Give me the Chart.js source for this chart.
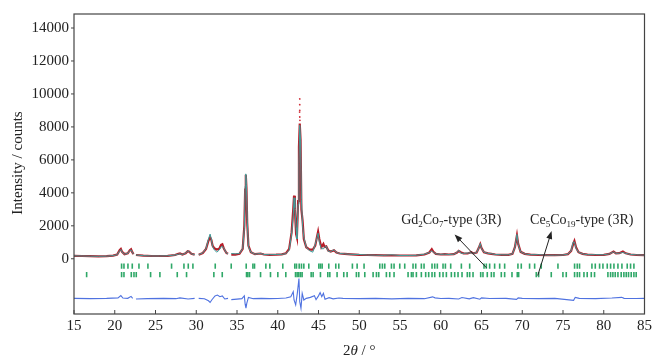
<!DOCTYPE html>
<html>
<head>
<meta charset="utf-8">
<script src="https://cdn.jsdelivr.net/npm/chart.js@4.4.0/dist/chart.umd.min.js"></script>
<style>
html, body { margin: 0; padding: 0; background: #fff; }
#graph { display: block; }
</style>
</head>
<body>
<canvas id="graph" width="655" height="357"></canvas>
<script>
/* Axis ticks */
var xTicks = [15, 20, 25, 30, 35, 40, 45, 50, 55, 60, 65, 70, 75, 80, 85];
var yTicks = [0, 2000, 4000, 6000, 8000, 10000, 12000, 14000];

/* Profile: [2theta, observed, calculated]  (null = excluded region) */
var profil = [
    [15, 180, 180], [16, 170, 170], [17, 160, 160], [18, 150, 150], [19, 160, 160],
    [19.8, 190, 190], [20.3, 260, 250], [20.6, 520, 480], [20.75, 600, 560], [20.9, 420, 400],
    [21.2, 280, 280], [21.6, 330, 330], [21.85, 520, 500], [22.0, 580, 540], [22.15, 400, 400],
    [22.3, 280, 280], [22.45, null, null], [22.6, 230, 230], [23.5, 190, 190], [24.5, 170, 170],
    [25.5, 170, 170], [26.5, 180, 180], [27.4, 230, 230], [27.8, 300, 280], [28.0, 320, 300],
    [28.3, 260, 260], [28.7, 330, 340], [28.95, 460, 480], [29.1, 440, 450], [29.4, 300, 300],
    [29.8, 250, 250], [30.1, null, null], [30.3, 250, 250], [30.8, 350, 360], [31.2, 600, 620],
    [31.5, 1100, 1200], [31.7, 1300, 1500], [31.85, 1150, 1200], [32.0, 800, 760], [32.2, 650, 560],
    [32.5, 560, 400], [32.8, 600, 520], [33.05, 850, 720], [33.2, 880, 760], [33.4, 600, 620],
    [33.7, 350, 350], [33.9, 300, 300], [34.1, null, null], [34.3, 250, 320], [34.8, 250, 300],
    [35.3, 300, 320], [35.7, 600, 620], [35.9, 2000, 1850], [36.0, 4200, 4400], [36.08, 5100, 5150],
    [36.16, 4300, 4500], [36.25, 2200, 2400], [36.4, 800, 740], [36.7, 400, 400], [37.2, 280, 280],
    [37.9, 320, 320], [38.3, 260, 260], [39.0, 240, 250], [39.8, 250, 260], [40.5, 270, 270],
    [41.0, 330, 310], [41.4, 600, 520], [41.7, 1600, 1500], [41.9, 3000, 2600], [42.0, 3830, 3700],
    [42.1, 3000, 3100], [42.25, 1500, 1900], [42.35, 1300, 1200], [42.5, 3500, 3300], [42.6, 6800, 5800],
    [42.7, 8200, 8100], [42.8, 7200, 7200], [42.9, 3000, 3600], [43.05, 2300, 2000], [43.2, 1200, 1300],
    [43.5, 700, 700], [43.9, 550, 490], [44.3, 550, 400], [44.6, 800, 880], [44.8, 1300, 1250],
    [44.95, 1650, 1550], [45.1, 1200, 1000], [45.35, 700, 620], [45.6, 900, 600], [45.75, 720, 700],
    [45.95, 750, 760], [46.2, 500, 460], [46.5, 440, 440], [46.9, 520, 550], [47.2, 380, 380],
    [47.6, 320, 320], [48.2, 300, 300], [49.0, 270, 270], [50, 240, 260], [51, 230, 230],
    [52, 220, 220], [53, 210, 210], [54, 210, 240], [55, 200, 200], [56, 200, 200],
    [57, 210, 210], [58, 260, 280], [58.6, 380, 380], [58.9, 580, 490], [59.1, 420, 390],
    [59.4, 300, 300], [60, 260, 270], [60.5, 280, 280], [61, 260, 260], [61.6, 280, 280],
    [62, 380, 380], [62.2, 480, 520], [62.5, 380, 330], [62.8, 330, 330], [63.3, 320, 350],
    [63.75, 400, 360], [64.0, 330, 330], [64.4, 380, 380], [64.7, 700, 700], [64.85, 880, 930],
    [65.0, 650, 620], [65.3, 400, 400], [65.8, 330, 330], [66.2, 300, 310], [66.7, 260, 260],
    [67.5, 240, 240], [68.3, 240, 240], [68.8, 300, 300], [69.1, 700, 700], [69.35, 1420, 1480],
    [69.5, 900, 870], [69.8, 420, 420], [70.3, 300, 300], [71, 250, 250], [72, 230, 250],
    [73, 220, 220], [74, 220, 220], [75, 230, 230], [75.6, 280, 280], [76.0, 480, 480],
    [76.25, 900, 1020], [76.4, 1080, 1020], [76.6, 700, 640], [76.9, 400, 400], [77.4, 300, 300],
    [78, 250, 250], [79, 230, 250], [80, 240, 240], [80.7, 300, 300], [81.2, 440, 420],
    [81.5, 330, 330], [81.9, 340, 340], [82.35, 440, 380], [82.7, 330, 330], [83.3, 260, 260],
    [84, 230, 240], [85, 220, 220]
];

/* Loose observed counts on top of the main peak */
var spikeX = [42.7, 42.7, 42.7, 42.7, 42.72, 42.68];
var spikeY = [8600, 9000, 9350, 9700, 8400, 8900];

/* Difference curve (obs - calc), drawn below the pattern */
var diffOffset = -2400;
var diffX = [15, 17, 19, 20.4, 20.75, 21.0, 21.6, 22.0, 22.2, 22.45, 22.6, 24, 26, 27.5, 28, 29, 29.8, 30.1,
    30.3, 31.0, 31.5, 31.7, 31.9, 32.3, 32.6, 32.9, 33.2, 33.5, 33.9, 34.1, 34.3, 35.0, 35.6, 35.9,
    36.0, 36.1, 36.2, 36.4, 37, 38, 39, 40, 41, 41.6, 41.9, 42.0, 42.2, 42.4, 42.6, 42.7, 42.85, 43.0,
    43.2, 43.5, 44.0, 44.5, 44.7, 45.0, 45.2, 45.4, 45.6, 45.8, 46.3, 46.8, 47.5, 48, 50, 52, 54, 56,
    58, 59.0, 59.3, 60, 61, 62.2, 62.6, 63.5, 64, 64.8, 65, 66, 68, 69.3, 69.5, 70, 72, 74, 76.3,
    76.5, 77, 79, 81, 82.2, 82.5, 84, 85];
var diffY = [0, -20, 0, 30, 170, 20, 0, 120, 0, null, -40, -20, 0, -20, 30, -40, 0, null,
    0, -20, -150, -250, -100, 150, 200, 100, 150, -40, 0, null, -80, -50, -20, 150,
    -350, -600, -300, 60, -20, 0, -20, -10, 20, 100, 400, -100, -400, 300, 1200, -200, -600, 300,
    -100, 0, 60, 160, -80, 150, 350, 100, 300, -50, 40, -30, 20, 0, -20, 0, -30, 0,
    -20, 90, 30, -10, 0, -40, 50, -30, 40, -50, 30, -10, 0, -60, 30, 0, -20, 0, -120,
    60, 0, -20, 20, 60, 0, -10, 0];

/* Bragg positions of the two phases */
var braggGd = [20.84, 21.13, 21.62, 22.15, 22.97, 24.07, 26.97, 28.49, 29.02, 29.59, 32.33, 34.29, 36.13,
    36.95, 37.15, 38.54, 39.03, 40.62, 42.09, 42.30, 42.63, 42.91, 43.2, 43.81, 45.04, 45.24, 45.45,
    46.26, 47.12, 47.49, 49.16, 49.74, 50.59, 52.52, 52.84, 53.13, 53.95, 54.27, 54.97, 55.58, 56.6,
    56.93, 57.62, 57.95, 58.93, 59.26, 59.58, 60.28, 60.57, 61.22, 62.53, 63.55, 65.31, 65.59, 66.0,
    66.61, 67.23, 67.84, 69.47, 69.88, 70.9, 71.52, 72.33, 74.38, 76.42, 76.75, 77.03, 78.55, 78.96,
    79.49, 79.9, 80.43, 80.84, 81.25, 81.74, 82.23, 82.88, 83.29, 83.7];
var braggCe = [16.55, 20.84, 21.13, 22.03, 22.36, 22.64, 24.4, 25.54, 27.67, 28.81, 32.16, 33.19, 36.17,
    36.33, 36.54, 37.89, 39.11, 40.01, 40.99, 42.18, 42.38, 42.58, 42.79, 42.99, 44.1, 44.34, 45.24,
    46.14, 46.39, 47.28, 48.1, 48.51, 49.65, 49.94, 50.68, 51.7, 52.11, 52.39, 53.33, 53.74, 54.27,
    55.99, 56.4, 56.6, 57.01, 57.62, 58.15, 58.52, 58.93, 59.26, 59.87, 60.28, 60.69, 61.3, 61.71,
    62.12, 62.61, 63.26, 63.55, 63.96, 64.9, 65.18, 65.71, 66.21, 66.53, 67.43, 67.84, 68.74, 69.39,
    69.56, 71.72, 72.01, 73.56, 74.99, 75.4, 76.42, 76.75, 77.03, 77.57, 77.97, 78.47, 78.87, 80.51,
    80.84, 81.12, 81.41, 81.74, 82.14, 82.47, 82.76, 83.04, 83.37, 83.7, 83.98];
var braggLevels = [-450, -960];

/* Phase labels: text parts [text, subscript?], label centre and arrow (data units) */
var phases = [
    { parts: [['Gd', 0], ['2', 1], ['Co', 0], ['7', 1], ['-type (3R)', 0]], at: [61.3, 2400], from: [65.6, -540], to: [61.7, 1480] },
    { parts: [['Ce', 0], ['5', 1], ['Co', 0], ['19', 1], ['-type (3R)', 0]], at: [77.3, 2400], from: [71.9, -1020], to: [73.6, 1680] }
];

var serif = '"Liberation Serif", "DejaVu Serif", serif';

function points(xs, ys, offset) {
    return xs.map(function (x, i) {
        return { x: x, y: ys[i] === null ? null : ys[i] + offset };
    });
}

function richText(ctx, parts, cx, cy) {
    var w = 0;
    parts.forEach(function (p) {
        ctx.font = (p[1] ? '9px ' : '14px ') + serif;
        w += ctx.measureText(p[0]).width;
    });
    var x = cx - w / 2;
    parts.forEach(function (p) {
        ctx.font = (p[1] ? '9px ' : '14px ') + serif;
        ctx.fillText(p[0], x, cy + (p[1] ? 8 : 5));
        x += ctx.measureText(p[0]).width;
    });
}

function arrow(ctx, x1, y1, x2, y2) {
    var ang = Math.atan2(y2 - y1, x2 - x1);
    ctx.beginPath();
    ctx.moveTo(x1, y1);
    ctx.lineTo(x2 - 5 * Math.cos(ang), y2 - 5 * Math.sin(ang));
    ctx.stroke();
    ctx.beginPath();
    ctx.moveTo(x2, y2);
    ctx.lineTo(x2 - 8 * Math.cos(ang) + 3 * Math.sin(ang), y2 - 8 * Math.sin(ang) - 3 * Math.cos(ang));
    ctx.lineTo(x2 - 8 * Math.cos(ang) - 3 * Math.sin(ang), y2 - 8 * Math.sin(ang) + 3 * Math.cos(ang));
    ctx.closePath();
    ctx.fill();
}

// frame, tick marks, axis titles and phase labels
var decor = {
    id: 'decor',
    afterDatasetsDraw: function (chart) {
        var ctx = chart.ctx, a = chart.chartArea, sx = chart.scales.x, sy = chart.scales.y;
        ctx.save();
        ctx.strokeStyle = '#444';
        ctx.lineWidth = 1.2;
        ctx.strokeRect(a.left, a.top, a.right - a.left, a.bottom - a.top);

        ctx.lineWidth = 1;
        ctx.beginPath();
        xTicks.forEach(function (v) {
            var px = sx.getPixelForValue(v);
            ctx.moveTo(px, a.bottom);
            ctx.lineTo(px, a.bottom - 4);
        });
        yTicks.forEach(function (v) {
            var py = sy.getPixelForValue(v);
            ctx.moveTo(a.left, py);
            ctx.lineTo(a.left - 3, py);
        });
        ctx.stroke();

        // y title
        ctx.fillStyle = '#222';
        ctx.textAlign = 'center';
        ctx.textBaseline = 'middle';
        ctx.font = '15px ' + serif;
        ctx.save();
        ctx.translate(18, 163);
        ctx.rotate(-Math.PI / 2);
        ctx.fillText('Intensity / counts', 0, 0);
        ctx.restore();

        // x title "2θ / °"
        ctx.textAlign = 'left';
        ctx.textBaseline = 'alphabetic';
        var t1 = '2', t2 = '\u03B8', t3 = ' / \u00B0';
        ctx.font = '15px ' + serif;
        var w1 = ctx.measureText(t1).width, w3 = ctx.measureText(t3).width;
        ctx.font = 'italic 15px ' + serif;
        var w2 = ctx.measureText(t2).width;
        var x0 = (a.left + a.right) / 2 - (w1 + w2 + w3) / 2;
        ctx.font = '15px ' + serif;
        ctx.fillText(t1, x0, 355);
        ctx.font = 'italic 15px ' + serif;
        ctx.fillText(t2, x0 + w1, 355);
        ctx.font = '15px ' + serif;
        ctx.fillText(t3, x0 + w1 + w2, 355);

        // phase labels and arrows
        ctx.strokeStyle = '#222';
        ctx.fillStyle = '#222';
        ctx.lineWidth = 1;
        phases.forEach(function (p) {
            richText(ctx, p.parts, sx.getPixelForValue(p.at[0]), sy.getPixelForValue(p.at[1]));
            arrow(ctx, sx.getPixelForValue(p.from[0]), sy.getPixelForValue(p.from[1]),
                sx.getPixelForValue(p.to[0]), sy.getPixelForValue(p.to[1]));
        });
        ctx.restore();
    }
};

var ctx = document.getElementById('graph').getContext('2d');

var twoTheta = profil.map(function (r) { return r[0]; });
var yObs = profil.map(function (r) { return r[1]; });
var yCalc = profil.map(function (r) { return r[2]; });

function braggSet(pos, level) {
    return {
        type: 'scatter',
        data: pos.map(function (x) { return { x: x, y: level }; }),
        pointStyle: 'line',
        rotation: 90,
        radius: 2.6,
        borderColor: '#2fa868',
        borderWidth: 1.6,
        order: 3
    };
}

var chart = new Chart(ctx, {
    type: 'line',
    data: {
        datasets: [{
            data: points(twoTheta, yCalc, 0),
            borderColor: '#3f9c9a',
            borderWidth: 1,
            pointRadius: 0,
            spanGaps: false,
            order: 0
        }, {
            data: points(twoTheta, yObs, 0),
            borderColor: '#b81c28',
            borderWidth: 2.2,
            pointRadius: 0,
            spanGaps: false,
            order: 1
        }, {
            type: 'scatter',
            data: points(spikeX, spikeY, 0),
            pointStyle: 'circle',
            radius: 0.9,
            backgroundColor: '#d0303a',
            borderWidth: 0,
            order: 1
        }, {
            data: points(diffX, diffY, diffOffset),
            borderColor: '#4f72e0',
            borderWidth: 1.1,
            pointRadius: 0,
            spanGaps: false,
            order: 2
        },
        braggSet(braggGd, braggLevels[0]),
        braggSet(braggCe, braggLevels[1])]
    },
    options: {
        responsive: false,
        animation: false,
        devicePixelRatio: 1,
        layout: { padding: { top: 11, right: 9.5, left: 0, bottom: 0 } },
        plugins: { legend: { display: false }, tooltip: { enabled: false } },
        scales: {
            x: {
                type: 'linear',
                min: 15,
                max: 85,
                afterFit: function (s) { s.height = 43; },
                afterBuildTicks: function (s) { s.ticks = xTicks.map(function (v) { return { value: v }; }); },
                ticks: { autoSkip: false, maxRotation: 0, padding: 3, color: '#222', font: { family: serif, size: 15 } },
                grid: { display: false, drawTicks: false },
                border: { display: false }
            },
            y: {
                type: 'linear',
                min: -3350,
                max: 14850,
                afterFit: function (s) { s.width = 74; },
                afterBuildTicks: function (s) { s.ticks = yTicks.map(function (v) { return { value: v }; }); },
                ticks: {
                    padding: 5,
                    color: '#222',
                    font: { family: serif, size: 15 },
                    callback: function (v) { return String(v); }
                },
                grid: { display: false, drawTicks: false },
                border: { display: false }
            }
        }
    },
    plugins: [decor]
});
</script>
</body>
</html>
